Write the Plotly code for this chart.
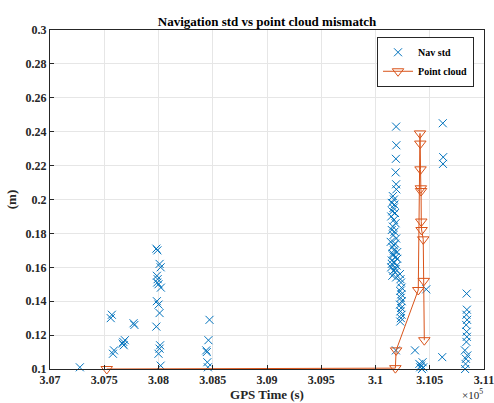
import plotly.graph_objects as go

# Nav std scatter (GPS time in s, std in m)
nav_t = [307275,
         307560, 307570, 307580, 307590, 307670, 307675, 307680, 307690, 307770, 307778,
         307980, 307990, 308010, 308020, 307985, 307992, 307988, 308000, 308022, 307985, 308000,
         308010, 307980, 308015, 308010, 308000, 308020,
         308440, 308445, 308450, 308455, 308460, 308470,
         310190, 310192, 310188, 310186, 310190, 310192,
         310160, 310170, 310150, 310175, 310165, 310155, 310180, 310145, 310170, 310185,
         310160, 310150, 310175, 310165, 310190, 310140, 310180, 310155, 310170, 310200,
         310160, 310185, 310150, 310175, 310195, 310145, 310165, 310180, 310155, 310190,
         310170, 310160, 310200, 310150, 310185,
         310225, 310230, 310235, 310240, 310228, 310238, 310232, 310242, 310226, 310236,
         310230, 310240, 310234, 310228,
         310188, 310364, 310404, 310412, 310420, 310428, 310434, 310440, 310468,
         310620, 310624, 310622, 310615,
         310840, 310842, 310838, 310844, 310836, 310840, 310842, 310838, 310824, 310846, 310834, 310830, 310826]
nav_std = [0.101,
           0.130, 0.132, 0.109, 0.111, 0.115, 0.116, 0.114, 0.117, 0.127, 0.126,
           0.171, 0.170, 0.162, 0.160, 0.155, 0.153, 0.151, 0.150, 0.148, 0.140, 0.138,
           0.133, 0.125, 0.114, 0.112, 0.109, 0.102,
           0.111, 0.110, 0.104, 0.101, 0.117, 0.129,
           0.243, 0.232, 0.224, 0.216, 0.209, 0.206,
           0.202, 0.200, 0.198, 0.197, 0.195, 0.193, 0.192, 0.190, 0.188, 0.186,
           0.184, 0.182, 0.181, 0.179, 0.177, 0.175, 0.174, 0.172, 0.170, 0.169,
           0.167, 0.166, 0.164, 0.163, 0.161, 0.160, 0.158, 0.157, 0.155, 0.154,
           0.173, 0.168, 0.165, 0.162, 0.159,
           0.156, 0.153, 0.151, 0.148, 0.146, 0.144, 0.142, 0.140, 0.138, 0.136,
           0.134, 0.132, 0.130, 0.128,
           0.111, 0.111, 0.103, 0.101, 0.102, 0.100, 0.104, 0.101, 0.147,
           0.245, 0.225, 0.221, 0.107,
           0.1445, 0.135, 0.132, 0.129, 0.126, 0.122, 0.119, 0.116, 0.111, 0.108, 0.106, 0.103, 0.100]

# Point cloud mismatch (GPS time in s, mismatch in m)
pc_t = [307523, 310183, 310190, 310394, 310410, 310413, 310415, 310418, 310420,
        310422, 310425, 310440, 310445, 310450]
pc_val = [0.100, 0.1005, 0.111, 0.1466, 0.239, 0.233, 0.2178, 0.2066, 0.205,
          0.187, 0.182, 0.1765, 0.152, 0.117]

x_ticks = [307000, 307500, 308000, 308500, 309000, 309500, 310000, 310500, 311000]
x_labels = ["3.07", "3.075", "3.08", "3.085", "3.09", "3.095", "3.1", "3.105", "3.11"]
y_ticks = [0.1, 0.12, 0.14, 0.16, 0.18, 0.2, 0.22, 0.24, 0.26, 0.28, 0.3]
y_labels = ["0.1", "0.12", "0.14", "0.16", "0.18", "0.2", "0.22", "0.24", "0.26", "0.28", "0.3"]

FONT = "Liberation Serif"
BLUE = "#0072BD"
ORANGE = "#D95319"

fig = go.Figure()
fig.add_trace(go.Scatter(
    x=nav_t, y=nav_std, mode="markers", name="<b>Nav std</b>",
    marker=dict(symbol="x-thin-open", size=8, color=BLUE, line=dict(color=BLUE, width=1)),
    cliponaxis=False,
))
fig.add_trace(go.Scatter(
    x=pc_t, y=pc_val, mode="lines+markers", name="<b>Point cloud</b>",
    line=dict(color=ORANGE, width=1),
    marker=dict(symbol="triangle-down-open", size=10, color=ORANGE, line=dict(color=ORANGE, width=1)),
    cliponaxis=False,
))

axis_common = dict(
    showgrid=True, gridcolor="#e6e6e6", gridwidth=1,
    showline=True, linecolor="#262626", linewidth=1, mirror=True,
    ticks="inside", ticklen=4, tickcolor="#262626",
    tickfont=dict(family=FONT, size=12, color="#262626"),
    zeroline=False, automargin=False, ticklabeloverflow="allow",
)

fig.update_layout(
    width=494, height=403,
    margin=dict(l=50, r=10, t=30, b=34),
    paper_bgcolor="white", plot_bgcolor="white",
    font=dict(family=FONT, color="#262626"),
    title=dict(text="<b>Navigation std vs point cloud mismatch</b>",
               x=0.5, xanchor="center", y=1 - 26 / 403, yanchor="bottom",
               xref="paper", font=dict(family=FONT, size=13, color="#000000")),
    xaxis=dict(range=[307000, 311000], tickvals=x_ticks,
               ticktext=["<b>%s</b>" % t for t in x_labels],
               title=dict(text="<b>GPS Time (s)</b>", standoff=0,
                          font=dict(family=FONT, size=13, color="#262626")),
               **axis_common),
    yaxis=dict(range=[0.1, 0.3], tickvals=y_ticks,
               ticktext=["<b>%s</b>" % t for t in y_labels],
               title=dict(text="<b>(m)</b>", standoff=6,
                          font=dict(family=FONT, size=13, color="#262626")),
               **axis_common),
    legend=dict(x=0.977, y=0.98, xanchor="right", yanchor="top",
                bgcolor="white", bordercolor="#262626", borderwidth=1,
                font=dict(family=FONT, size=10, color="#000000"),
                tracegroupgap=0, itemwidth=30),
    showlegend=True,
)

fig.add_annotation(text="×10<sup>5</sup>", xref="paper", yref="paper",
                   x=1.0, y=-0.05, xanchor="right", yanchor="top",
                   showarrow=False, borderpad=0,
                   font=dict(family=FONT, size=11, color="#262626"))

fig.write_html("out.html", config={"displayModeBar": False},
               post_script="document.body.style.margin='0';document.body.style.overflow='hidden';")
